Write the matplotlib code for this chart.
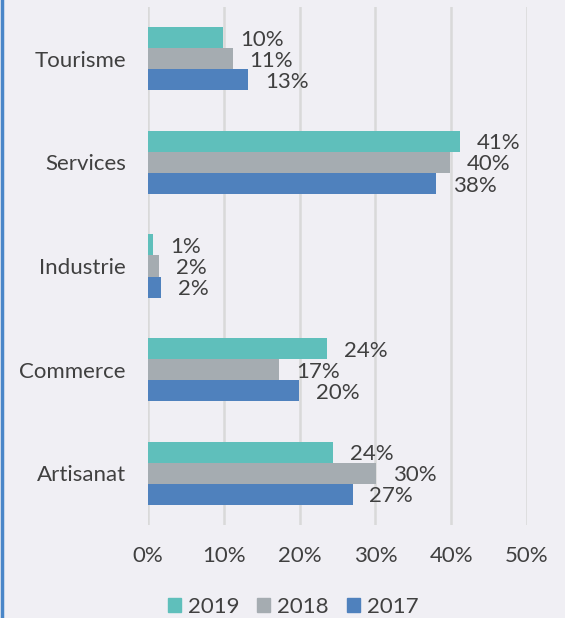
import matplotlib.pyplot as plt
import numpy as np
from matplotlib.lines import Line2D

categories = ["Tourisme", "Services", "Industrie", "Commerce", "Artisanat"]
years = ["2019", "2018", "2017"]
v2019 = [9.9, 41.2, 0.7, 23.6, 24.4]
v2018 = [11.2, 39.8, 1.5, 17.3, 30.1]
v2017 = [13.2, 38.0, 1.7, 19.9, 27.0]
labels2019 = ["10%", "41%", "1%", "24%", "24%"]
labels2018 = ["11%", "40%", "2%", "17%", "30%"]
labels2017 = ["13%", "38%", "2%", "20%", "27%"]
xticks = [0, 10, 20, 30, 40, 50]

colors = ["#5fbfbb", "#a5acb1", "#4f81bd"]
bg = "#f0eff4"
txt = "#404040"
fs = 16

plt.rcParams['font.family'] = ['Lato', 'DejaVu Sans']

fig = plt.figure(figsize=(5.65, 6.18), dpi=100, facecolor=bg)
ax = fig.add_axes([148 / 565, 1 - 525 / 618, (527 - 148) / 565, 518 / 618])
ax.set_facecolor(bg)

y = np.arange(len(categories))
h = 0.203
series = [(v2019, labels2019), (v2018, labels2018), (v2017, labels2017)]
for i, ((vals, labs), col, yr) in enumerate(zip(series, colors, years)):
    pos = y + (i - 1) * h
    bars = ax.barh(pos, vals, height=h, color=col, label=yr, zorder=3)
    for yy, v, lab in zip(pos, vals, labs):
        ax.annotate(lab, (v, yy), xytext=(12, -1.5), textcoords='offset points',
                    ha='left', va='center', fontsize=fs, color=txt)

ax.set_xlim(0, 50)
ax.set_ylim(len(categories) - 0.5, -0.5)
ax.set_yticks(y)
ax.set_yticklabels(categories, fontsize=fs, color=txt)
ax.set_xticks(xticks)
ax.set_xticklabels([f"{t}%" for t in xticks], fontsize=fs, color=txt)
ax.tick_params(length=0)
ax.tick_params(axis='y', pad=16)
ax.tick_params(axis='x', pad=15)
ax.grid(axis='x', color='#d9d9d9', linewidth=1.8, zorder=0)
for s in ax.spines.values():
    s.set_visible(False)

handles = [plt.Rectangle((0, 0), 1, 1, color=c) for c in colors]
fig.legend(handles, years, loc='center', bbox_to_anchor=(293 / 565, 1 - 607 / 618),
           ncol=3, frameon=False, fontsize=fs, handlelength=0.6, handleheight=0.6,
           handletextpad=0.3, columnspacing=0.8, labelcolor=txt)

fig.add_artist(Line2D([0.003, 0.003], [0, 1], transform=fig.transFigure,
                      color="#4a86c8", linewidth=2.5))

fig.savefig("out.png", dpi=100, facecolor=bg)
